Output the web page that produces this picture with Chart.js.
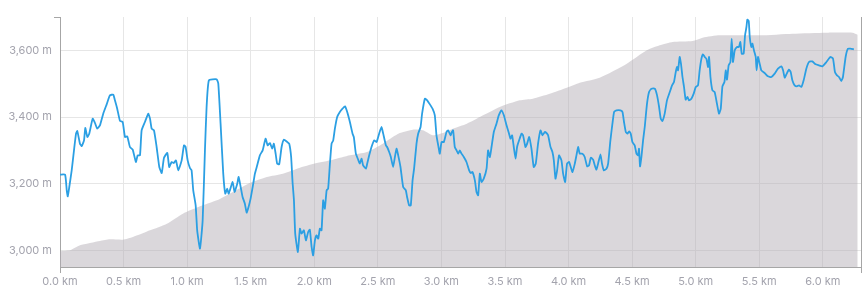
<!DOCTYPE html>
<html>
<head>
<meta charset="utf-8">
<script src="https://cdn.jsdelivr.net/npm/chart.js@4/dist/chart.umd.min.js"></script>
<style>
  body { margin: 0; background: #fff; }
  #wrap { width: 864px; height: 296px; }
</style>
</head>
<body>
<div id="wrap"><canvas id="chart" width="864" height="296"></canvas></div>
<script>
// perfil de altitude (área cinza)
const profileKm = [0, 0.079, 0.157, 0.314, 0.393, 0.495, 0.574, 0.708, 0.841, 0.967, 1.101, 1.234, 1.36, 1.494, 1.627, 1.753, 1.887, 1.997, 2.146, 2.28, 2.414, 2.539, 2.618, 2.673, 2.775, 2.854, 2.932, 3.011, 3.09, 3.2, 3.302, 3.459, 3.616, 3.719, 3.852, 3.986, 4.088, 4.245, 4.458, 4.615, 4.717, 4.819, 4.976, 5.055, 5.189, 5.503, 5.763, 6.03, 6.234, 6.274];
const profileElev = [2997, 3000, 3015, 3028, 3033, 3032, 3040, 3060, 3080, 3110, 3132, 3150, 3175, 3202, 3220, 3230, 3248, 3260, 3272, 3285, 3295, 3320, 3340, 3352, 3362, 3360, 3345, 3352, 3365, 3380, 3400, 3430, 3450, 3455, 3470, 3488, 3503, 3518, 3560, 3600, 3615, 3625, 3628, 3638, 3645, 3645, 3650, 3653, 3653, 3647];

// linha azul
const trackKm = [0, 0.04, 0.053, 0.061, 0.073, 0.092, 0.11, 0.126, 0.136, 0.157, 0.171, 0.189, 0.199, 0.215, 0.23, 0.257, 0.275, 0.293, 0.314, 0.34, 0.367, 0.393, 0.419, 0.432, 0.45, 0.472, 0.493, 0.511, 0.529, 0.55, 0.572, 0.597, 0.611, 0.629, 0.642, 0.668, 0.694, 0.708, 0.721, 0.739, 0.76, 0.781, 0.8, 0.818, 0.844, 0.859, 0.878, 0.896, 0.912, 0.93, 0.957, 0.975, 0.988, 1.004, 1.022, 1.035, 1.048, 1.067, 1.079, 1.101, 1.122, 1.14, 1.153, 1.171, 1.232, 1.245, 1.263, 1.284, 1.3, 1.315, 1.326, 1.336, 1.358, 1.373, 1.394, 1.405, 1.421, 1.436, 1.454, 1.468, 1.483, 1.499, 1.52, 1.533, 1.551, 1.572, 1.594, 1.617, 1.633, 1.651, 1.669, 1.682, 1.696, 1.708, 1.724, 1.743, 1.761, 1.787, 1.803, 1.818, 1.829, 1.84, 1.85, 1.871, 1.887, 1.9, 1.918, 1.934, 1.952, 1.965, 1.979, 1.991, 2.005, 2.018, 2.031, 2.044, 2.057, 2.07, 2.083, 2.097, 2.109, 2.123, 2.136, 2.149, 2.162, 2.18, 2.201, 2.222, 2.241, 2.259, 2.28, 2.301, 2.311, 2.327, 2.345, 2.358, 2.372, 2.384, 2.406, 2.416, 2.432, 2.45, 2.471, 2.49, 2.51, 2.529, 2.542, 2.563, 2.573, 2.589, 2.602, 2.62, 2.634, 2.647, 2.66, 2.678, 2.699, 2.72, 2.73, 2.746, 2.759, 2.773, 2.785, 2.804, 2.817, 2.836, 2.848, 2.87, 2.888, 2.909, 2.93, 2.948, 2.961, 2.977, 2.987, 3.001, 3.019, 3.04, 3.053, 3.072, 3.082, 3.092, 3.105, 3.119, 3.131, 3.145, 3.158, 3.176, 3.197, 3.218, 3.231, 3.244, 3.263, 3.276, 3.289, 3.302, 3.315, 3.333, 3.355, 3.367, 3.381, 3.394, 3.412, 3.433, 3.451, 3.472, 3.491, 3.512, 3.532, 3.543, 3.556, 3.569, 3.583, 3.595, 3.611, 3.63, 3.642, 3.661, 3.674, 3.69, 3.708, 3.726, 3.742, 3.76, 3.779, 3.795, 3.813, 3.826, 3.839, 3.858, 3.873, 3.884, 3.897, 3.91, 3.925, 3.944, 3.957, 3.973, 3.988, 4.004, 4.017, 4.031, 4.049, 4.062, 4.075, 4.088, 4.109, 4.127, 4.146, 4.161, 4.175, 4.193, 4.206, 4.219, 4.232, 4.251, 4.263, 4.277, 4.298, 4.311, 4.329, 4.345, 4.358, 4.377, 4.408, 4.424, 4.436, 4.45, 4.463, 4.476, 4.489, 4.502, 4.52, 4.534, 4.546, 4.554, 4.562, 4.573, 4.586, 4.599, 4.617, 4.633, 4.652, 4.678, 4.696, 4.712, 4.725, 4.738, 4.756, 4.774, 4.796, 4.814, 4.829, 4.843, 4.853, 4.861, 4.874, 4.884, 4.896, 4.908, 4.921, 4.935, 4.947, 4.966, 4.984, 5.0, 5.018, 5.031, 5.045, 5.057, 5.071, 5.084, 5.097, 5.105, 5.116, 5.131, 5.149, 5.167, 5.183, 5.197, 5.21, 5.226, 5.236, 5.246, 5.259, 5.273, 5.283, 5.293, 5.307, 5.325, 5.34, 5.351, 5.362, 5.377, 5.388, 5.399, 5.406, 5.417, 5.425, 5.438, 5.446, 5.458, 5.472, 5.479, 5.49, 5.503, 5.516, 5.542, 5.568, 5.595, 5.621, 5.647, 5.674, 5.687, 5.7, 5.713, 5.733, 5.747, 5.76, 5.778, 5.796, 5.812, 5.831, 5.849, 5.87, 5.891, 5.917, 5.943, 5.969, 5.996, 6.028, 6.059, 6.08, 6.095, 6.111, 6.127, 6.145, 6.158, 6.179, 6.197, 6.216, 6.244];
const trackElev = [3227, 3227, 3180, 3162, 3190, 3240, 3300, 3350, 3358, 3320, 3313, 3330, 3367, 3340, 3350, 3395, 3382, 3365, 3375, 3410, 3438, 3465, 3467, 3450, 3425, 3388, 3385, 3340, 3342, 3310, 3302, 3265, 3285, 3285, 3360, 3385, 3410, 3395, 3365, 3360, 3310, 3250, 3232, 3278, 3292, 3250, 3265, 3262, 3270, 3240, 3270, 3315, 3310, 3270, 3247, 3240, 3180, 3135, 3060, 3005, 3090, 3300, 3430, 3510, 3513, 3500, 3380, 3230, 3170, 3185, 3170, 3180, 3205, 3175, 3200, 3220, 3190, 3160, 3140, 3113, 3130, 3155, 3200, 3230, 3255, 3285, 3300, 3335, 3315, 3322, 3305, 3320, 3290, 3260, 3258, 3310, 3332, 3325, 3320, 3280, 3205, 3150, 3050, 2995, 3065, 3050, 3060, 3030, 3055, 3062, 3010, 2985, 3030, 3045, 3035, 3065, 3060, 3150, 3125, 3180, 3185, 3260, 3320, 3330, 3365, 3400, 3415, 3425, 3432, 3415, 3385, 3350, 3340, 3290, 3272, 3260, 3275, 3255, 3245, 3260, 3285, 3310, 3330, 3325, 3350, 3370, 3350, 3315, 3310, 3295, 3280, 3250, 3280, 3305, 3285, 3250, 3190, 3180, 3160, 3135, 3135, 3210, 3245, 3320, 3350, 3370, 3410, 3455, 3450, 3438, 3425, 3405, 3345, 3310, 3290, 3325, 3325, 3355, 3360, 3345, 3355, 3360, 3310, 3300, 3290, 3300, 3290, 3280, 3265, 3240, 3232, 3235, 3210, 3175, 3165, 3230, 3205, 3215, 3245, 3300, 3280, 3310, 3355, 3380, 3405, 3420, 3405, 3375, 3350, 3335, 3345, 3310, 3275, 3310, 3330, 3350, 3345, 3310, 3320, 3340, 3305, 3250, 3260, 3320, 3360, 3345, 3355, 3352, 3345, 3310, 3295, 3270, 3215, 3240, 3285, 3270, 3230, 3205, 3260, 3265, 3250, 3235, 3260, 3285, 3310, 3290, 3290, 3280, 3252, 3255, 3278, 3272, 3255, 3242, 3260, 3288, 3260, 3240, 3245, 3260, 3330, 3380, 3415, 3420, 3420, 3415, 3385, 3355, 3350, 3357, 3350, 3325, 3315, 3290, 3285, 3305, 3252, 3280, 3330, 3370, 3440, 3475, 3485, 3485, 3465, 3430, 3395, 3388, 3410, 3450, 3475, 3495, 3505, 3535, 3550, 3540, 3580, 3560, 3520, 3490, 3452, 3460, 3450, 3455, 3470, 3490, 3495, 3540, 3575, 3588, 3580, 3575, 3550, 3580, 3520, 3480, 3475, 3440, 3410, 3425, 3492, 3505, 3540, 3512, 3555, 3565, 3635, 3565, 3600, 3610, 3610, 3625, 3590, 3590, 3645, 3670, 3692, 3688, 3640, 3610, 3620, 3600, 3580, 3540, 3580, 3560, 3540, 3532, 3522, 3520, 3530, 3545, 3552, 3540, 3518, 3528, 3542, 3535, 3510, 3495, 3492, 3495, 3490, 3510, 3545, 3565, 3567, 3558, 3555, 3552, 3565, 3580, 3575, 3535, 3525, 3520, 3508, 3520, 3580, 3605, 3605, 3603];

// eixos
const xTicks = [0, 0.5, 1, 1.5, 2, 2.5, 3, 3.5, 4, 4.5, 5, 5.5, 6, 6.3];
const yTicks = [2950, 3000, 3200, 3400, 3600, 3700];
const yLabelled = [3000, 3200, 3400, 3600];

const axisGray = '#a6a6a6';
const gridGray = '#e6e6e6';
const labelGray = '#a3a3ad';
const xMax = xTicks[xTicks.length - 1];

document.addEventListener('DOMContentLoaded', function () {
    const ctx = document.getElementById('chart').getContext('2d');

    new Chart(ctx, {
        type: 'line',
        data: {
            datasets: [
                {
                    data: trackKm.map((x, i) => ({ x: x, y: trackElev[i] })),
                    borderColor: '#2b9fe3',
                    borderWidth: 1.8,
                    pointRadius: 0,
                    tension: 0.15,
                    fill: false,
                    order: 1
                },
                {
                    data: profileKm.map((x, i) => ({ x: x, y: profileElev[i] })),
                    borderWidth: 0,
                    borderColor: 'rgba(0,0,0,0)',
                    backgroundColor: 'rgba(178,172,180,0.48)',
                    pointRadius: 0,
                    tension: 0.2,
                    fill: 'start',
                    order: 2
                }
            ]
        },
        options: {
            responsive: false,
            animation: false,
            layout: { padding: { top: 17, right: 3, left: 0, bottom: 0 } },
            plugins: { legend: { display: false }, tooltip: { enabled: false } },
            scales: {
                x: {
                    type: 'linear',
                    min: 0,
                    max: xMax,
                    afterBuildTicks: axis => { axis.ticks = xTicks.map(v => ({ value: v })); },
                    afterFit: scale => { scale.height = 29; scale.paddingLeft = 0; scale.paddingRight = 0; },
                    border: { color: axisGray, width: 1 },
                    grid: {
                        color: c => c.tick && c.tick.value === xMax ? axisGray : gridGray,
                        tickColor: c => c.tick && (c.tick.value === 0 || c.tick.value === xMax) ? axisGray : 'rgba(0,0,0,0)',
                        tickLength: 6
                    },
                    ticks: {
                        autoSkip: false,
                        maxRotation: 0,
                        padding: 2,
                        color: labelGray,
                        font: { family: 'Inter', size: 11 },
                        callback: v => v <= 6 ? v.toFixed(1) + ' km' : ''
                    }
                },
                y: {
                    min: yTicks[0],
                    max: yTicks[yTicks.length - 1],
                    afterBuildTicks: axis => { axis.ticks = yTicks.map(v => ({ value: v })); },
                    afterFit: scale => { scale.width = 60; scale.paddingTop = 0; scale.paddingBottom = 0; },
                    border: { color: axisGray, width: 1 },
                    grid: {
                        color: c => c.tick && yLabelled.includes(c.tick.value) ? gridGray : 'rgba(0,0,0,0)',
                        tickColor: c => c.tick && c.tick.value === yTicks[yTicks.length - 1] ? axisGray : 'rgba(0,0,0,0)',
                        tickLength: 6
                    },
                    ticks: {
                        autoSkip: false,
                        padding: 2,
                        color: labelGray,
                        font: { family: 'Inter', size: 11 },
                        callback: v => yLabelled.includes(v) ? v.toLocaleString('en-US') + ' m' : ''
                    }
                }
            }
        }
    });
});
</script>
</body>
</html>
